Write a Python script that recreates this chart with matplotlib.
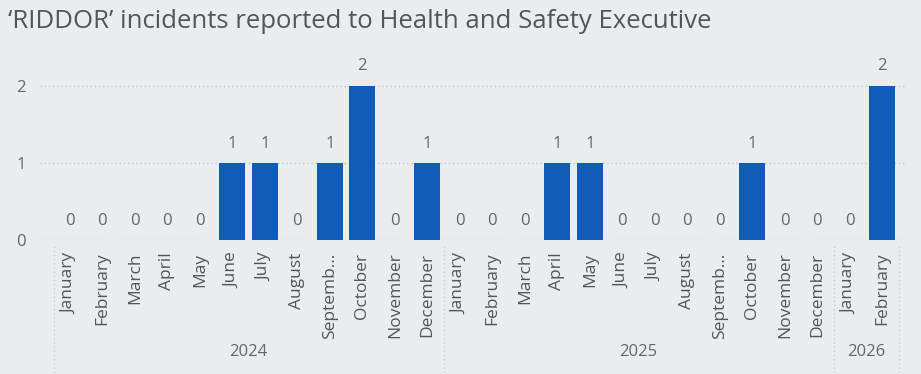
import matplotlib.pyplot as plt
import matplotlib.transforms as mtransforms

plt.rcParams['font.family'] = ['Open Sans', 'DejaVu Sans']

# data
years = ['2024', '2025', '2026']
months_per_year = [12, 12, 2]
month_names = ['January', 'February', 'March', 'April', 'May', 'June', 'July',
               'August', 'Septemb...', 'October', 'November', 'December']
incidents = [0, 0, 0, 0, 0, 1, 1, 0, 1, 2, 0, 1,
             0, 0, 0, 1, 1, 0, 0, 0, 0, 1, 0, 0,
             0, 2]

labels = []
for n in months_per_year:
    labels += month_names[:n]
x = list(range(len(incidents)))

bg = '#E9EDF0'
bar_col = '#115CB8'
txt = '#666666'

fig = plt.figure(figsize=(9.21, 3.74), dpi=100, facecolor=bg)
ax = fig.add_axes([0.0434, 0.358, 0.9396, 0.495], facecolor=bg)

ax.bar(x, incidents, width=0.8, color=bar_col, zorder=3)
for xi, v in zip(x, incidents):
    ax.annotate(str(v), (xi, v), xytext=(0, 14), textcoords='offset points',
                ha='center', va='center', fontsize=12, color=txt)

ax.set_xlim(-0.92, 25.71)
ax.set_ylim(0, 2.4)
ax.set_yticks([0, 1, 2])
ax.tick_params(axis='y', length=0, pad=10, labelsize=12, labelcolor=txt)
ax.set_xticks(x)
ax.set_xticklabels(labels, rotation=90, ha='center', va='top')
ax.tick_params(axis='x', length=0, pad=9, labelsize=12.5, labelcolor='#555555')
ax.grid(axis='y', color='#BFC4C8', linestyle=(0, (1, 2)), linewidth=1, zorder=0)
for s in ax.spines.values():
    s.set_visible(False)

# year group labels and separators
trans = mtransforms.blended_transform_factory(ax.transData, ax.transAxes)
start = 0
ax.plot([start - 0.5, start - 0.5], [-0.03, -0.71], transform=trans,
        color='#C8CDD1', linestyle=(0, (1, 2)), linewidth=1, clip_on=False)
for yr, n in zip(years, months_per_year):
    end = start + n
    ax.text((start + end - 1) / 2, -0.605, yr, transform=trans, ha='center',
            va='center', fontsize=12, color=txt)
    ax.plot([end - 0.5, end - 0.5], [-0.03, -0.71], transform=trans,
            color='#C8CDD1', linestyle=(0, (1, 2)), linewidth=1, clip_on=False)
    start = end

fig.text(0.009, 0.943, "\u2018RIDDOR\u2019 incidents reported to Health and Safety Executive",
         ha='left', va='center', fontsize=18.5, color='#555555')

fig.savefig('out.png', dpi=100, facecolor=bg)
